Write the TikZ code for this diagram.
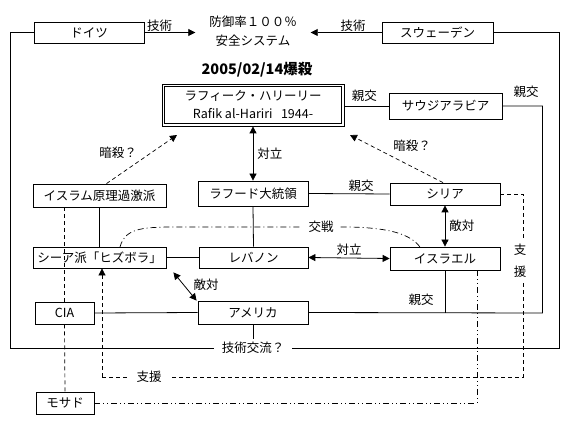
\documentclass[tikz,border=0pt]{standalone}
\usepackage{fontspec}
\setmainfont{Noto Sans CJK JP}
\usetikzlibrary{arrows.meta}
\begin{document}
\begin{tikzpicture}[x=1pt,y=-1pt,
  every node/.style={font=\fontsize{12.5}{14}\selectfont},
  box/.style={draw, line width=0.8pt, inner sep=0pt, fill=white},
  lbl/.style={inner sep=1pt},
  ln/.style={line width=0.8pt},
  arr/.style={ln, -{Triangle[length=7pt,width=7pt]}},
  darr/.style={ln, {Triangle[length=7pt,width=7pt]}-{Triangle[length=7pt,width=7pt]}},
  dsh/.style={line width=0.7pt, dash pattern=on 4pt off 3pt},
  dashdot/.style={line width=0.7pt, dash pattern=on 6pt off 3pt on 1pt off 3pt},
  dashdotdot/.style={line width=0.7pt, dash pattern=on 6pt off 3pt on 1pt off 3pt on 1pt off 3pt}]
\useasboundingbox[fill=white] (0,0) rectangle (569,427);

% nodes
\node[box, minimum width=110, minimum height=21] (doitsu) at (89,32.5) {ドイツ};
\node[box, minimum width=111, minimum height=21] (sweden) at (437.5,32.5) {スウェーデン};
\node[inner sep=0pt, minimum width=115, align=center, font=\fontsize{12.5}{19}\selectfont] (goal) at (253,31) {防御率１００％\\安全システム};
\node[lbl, font=\fontsize{14.5}{16}\selectfont\bfseries] (date) at (257,70) {2005/02/14爆殺};
\node[box, minimum width=182, minimum height=42, align=center,
  font=\fontsize{12.5}{18}\selectfont] (hariri) at (253,105) {ラフィーク・ハリーリー\\Rafik al-Hariri\ \ \ 1944-};
\draw[line width=0.8pt] ([shift={(3,3)}]hariri.north west) rectangle ([shift={(-3,-3)}]hariri.south east);
\node[box, minimum width=113, minimum height=26] (saudi) at (445.5,106) {サウジアラビア};
\node[box, minimum width=110, minimum height=25] (rahud) at (253,193.5) {ラフード大統領};
\node[box, minimum width=110, minimum height=22] (syria) at (445,194) {シリア};
\node[box, minimum width=133, minimum height=23] (islam) at (99.5,195.5) {イスラム原理過激派};
\node[box, minimum width=133, minimum height=21] (shia) at (99.5,257.5) {シーア派「ヒズボラ」};
\node[box, minimum width=109, minimum height=21] (lebanon) at (253.5,257.5) {レバノン};
\node[box, minimum width=110, minimum height=23] (israel) at (445,258.5) {イスラエル};
\node[box, minimum width=110, minimum height=23] (america) at (253,312.5) {アメリカ};
\node[box, minimum width=59, minimum height=22] (cia) at (64.5,313) {CIA};
\node[box, minimum width=58, minimum height=22] (mossad) at (65,403) {モサド};
\node[inner xsep=8pt, inner ysep=3pt] (gk) at (253,348) {技術交流？};

% coordinates
\coordinate (lt) at (10,32.5);
\coordinate (lb) at (10,348);
\coordinate (rt) at (559,32.5);
\coordinate (rb) at (559,348);
\coordinate (st) at (542.5,106);
\coordinate (sb) at (542.5,313);
\coordinate (tipR) at (350,135);
\coordinate (tipL) at (177,135);
\coordinate (sy1) at (523,194);
\coordinate (sy2) at (523,377);
\coordinate (sy3) at (102,377);
\coordinate (mo1) at (477,403);
\coordinate (isr) at (477,270);

% technology
\draw[ln] (doitsu.west) -- (lt) -- (lb) -- (gk.west);
\draw[ln] (sweden.east) -- (rt) -- (rb) -- (gk.east);
\draw[arr] (doitsu.east) -- (doitsu.east -| goal.west) node[lbl, pos=0.3, above=0pt] (g1) {技術};
\draw[arr] (sweden.west) -- (sweden.west -| goal.east) node[lbl, pos=0.4, above=0pt] (g2) {技術};

% friendship
\draw[ln] (hariri.east |- saudi.west) -- (saudi.west) node[lbl, pos=0.45, above=3pt] (f1) {親交};
\draw[ln] (saudi.east) -- (st) -- (sb) -- (america.east);
\node[lbl] (f2) at (526,92) {親交};
\draw[ln] (israel.south) -- (israel.south |- america.east);
\node[lbl] (f3) at (421,300) {親交};
\draw[ln] (rahud.east) -- (syria.west) node[lbl, pos=0.65, above=1pt] (f4) {親交};

% conflict
\draw[darr] (hariri.south) -- (rahud.north) node[lbl, midway, right=3pt] (c1) {対立};
\draw[darr] (lebanon.east) -- (israel.west) node[lbl, midway, above=1pt] (c2) {対立};
\draw[darr] (syria.south) -- (israel.north) node[lbl, midway, right=3pt] (c3) {敵対};
\draw[darr] ([shift={(7,4)}]shia.south east) -- ([shift={(-1,0)}]america.north west);
\node[lbl] (c4) at (206,285) {敵対};

% plain links
\draw[ln] (islam.south) -- (shia.north);
\draw[ln] (rahud.south) -- (lebanon.north);
\draw[ln] (shia.east) -- (lebanon.west);
\draw[ln] (cia.east) -- (america.west);
\draw[ln] (america.south) -- (gk.north);

% dashed
\draw[dsh] (cia.north |- islam.south) -- (cia.north);
\draw[dsh] (cia.south) -- (mossad.north);
\draw[dsh, -{Triangle[length=7pt,width=7pt]}] ([xshift=-2]syria.north) -- (tipR);
\node[lbl] (a1) at (412,146) {暗殺？};
\draw[dsh, -{Triangle[length=7pt,width=7pt]}] ([xshift=7]islam.north) -- (tipL);
\node[lbl] (a2) at (118,153) {暗殺？};
\draw[dsh] (syria.east) -- (sy1) -- (sy2) -- (sy3);
\draw[dsh, -{Triangle[length=7pt,width=7pt]}] (sy3) -- (sy3 |- shia.south);
\node[fill=white, inner xsep=1pt, inner ysep=3pt, align=center, font=\fontsize{12.5}{22}\selectfont] (s1) at (520,261) {支\\援};
\node[fill=white, inner xsep=9pt, inner ysep=1pt] (s2) at (149,377) {支援};

% battle
\node[inner xsep=7pt, inner ysep=1pt] (kosen) at (321,227) {交戦};
\coordinate (k1) at (120,247);
\coordinate (k2) at (420,247);
\draw[dashdot] (k1) .. controls (125,229) and (140,227) .. (175,227) -- (kosen.west);
\draw[dashdot] (kosen.east) -- (350,227) .. controls (390,228) and (410,234) .. (k2);

% mossad
\draw[dashdotdot] (mossad.east) -- (mo1) -- (isr);
\end{tikzpicture}
\end{document}
